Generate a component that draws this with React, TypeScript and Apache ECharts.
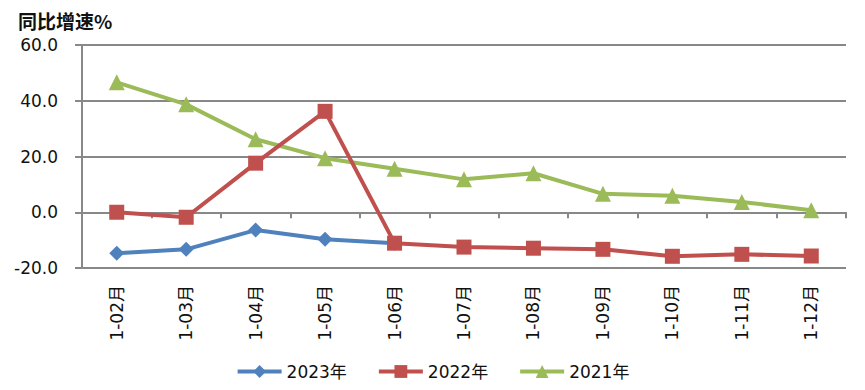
import React, { useEffect, useRef } from "react";
import * as echarts from "echarts";

const categories = ["1-02月", "1-03月", "1-04月", "1-05月", "1-06月", "1-07月", "1-08月", "1-09月", "1-10月", "1-11月", "1-12月"];
const s2023 = [-14.7, -13.3, -6.4, -9.7, -11.1];
const s2022 = [0.0, -1.8, 17.6, 36.2, -11.1, -12.5, -12.9, -13.3, -15.8, -15.1, -15.7];
const s2021 = [46.6, 38.7, 26.2, 19.4, 15.6, 11.8, 14.0, 6.6, 5.9, 3.7, 0.7];
const yTicks = { min: -20, max: 60, interval: 20 };

const FONT = "'DejaVu Sans', 'Noto Sans CJK SC', sans-serif";
const GRAY = "#888888";

export default function App() {
  const ref = useRef<HTMLDivElement>(null);
  useEffect(() => {
    const chart = echarts.init(ref.current!, null, { renderer: "svg" });
    chart.setOption({
      animation: false,
      title: {
        text: "同比增速%",
        left: 10,
        top: 3,
        padding: 0,
        textStyle: { fontFamily: "'Noto Sans CJK SC', sans-serif", fontSize: 19, fontWeight: "bold", color: "#111" },
      },
      legend: {
        top: 355,
        left: "center",
        padding: 0,
        itemWidth: 44,
        itemHeight: 16,
        itemGap: 30,
        lineStyle: { width: 4 },
        textStyle: { fontFamily: FONT, fontSize: 17, color: "#111" },
        data: ["2023年", "2022年", "2021年"],
      },
      grid: { left: 74, right: 11, top: 37, bottom: 114 },
      xAxis: [
        {
          type: "category",
          data: categories,
          boundaryGap: true,
          axisLine: { show: false, onZero: false },
          axisTick: { show: false },
          axisLabel: { rotate: 90, margin: 17, fontFamily: FONT, fontSize: 17, color: "#111" },
        },
        {
          type: "category",
          data: categories,
          position: "bottom",
          boundaryGap: true,
          axisLine: { show: true, onZero: true, lineStyle: { color: GRAY, width: 2 } },
          axisTick: { show: true, length: 6, lineStyle: { color: GRAY, width: 2 } },
          axisLabel: { show: false },
        },
      ],
      yAxis: {
        type: "value",
        min: yTicks.min,
        max: yTicks.max,
        interval: yTicks.interval,
        axisLine: { show: true, lineStyle: { color: GRAY, width: 2 } },
        axisTick: { show: true, length: 7, lineStyle: { color: GRAY, width: 2 } },
        splitLine: { show: true, lineStyle: { color: GRAY, width: 2 } },
        axisLabel: {
          margin: 24,
          fontFamily: FONT,
          fontSize: 17,
          color: "#111",
          formatter: (v: number) => v.toFixed(1),
        },
      },
      series: [
        {
          name: "2021年",
          type: "line",
          data: s2021,
          symbol: "triangle",
          symbolSize: 16,
          lineStyle: { color: "#9BBB59", width: 4 },
          itemStyle: { color: "#9BBB59" },
          z: 2,
        },
        {
          name: "2022年",
          type: "line",
          data: s2022,
          symbol: "rect",
          symbolSize: 15,
          lineStyle: { color: "#C0504D", width: 4 },
          itemStyle: { color: "#C0504D" },
          z: 3,
        },
        {
          name: "2023年",
          type: "line",
          data: s2023,
          symbol: "diamond",
          symbolSize: 15,
          lineStyle: { color: "#4F81BD", width: 4 },
          itemStyle: { color: "#4F81BD" },
          z: 2,
        },
      ],
    });
    return () => chart.dispose();
  }, []);
  return <div ref={ref} style={{ width: 849, height: 374 }} />;
}
